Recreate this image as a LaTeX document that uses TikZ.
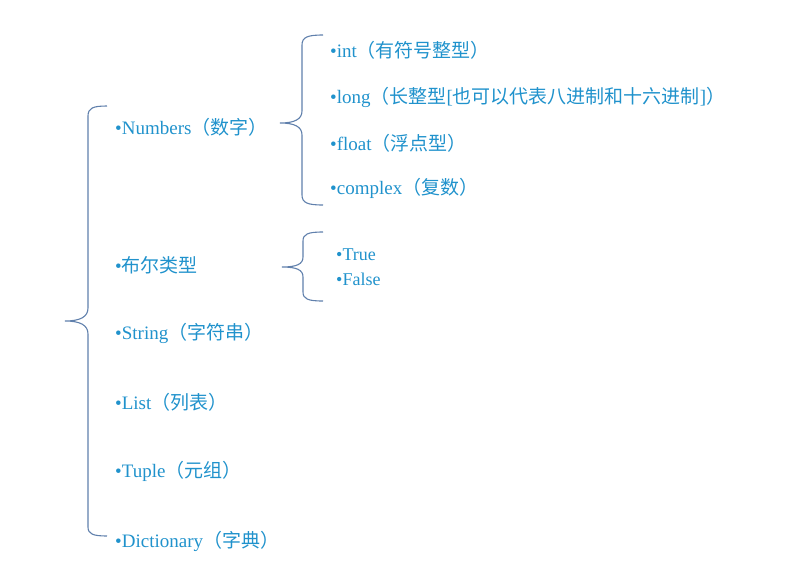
\documentclass[tikz,border=0pt]{standalone}
\usepackage{fontspec}
\setmainfont{Liberation Serif}
\newfontfamily\cjk{Noto Sans CJK SC}
\definecolor{itemblue}{RGB}{32,146,204}
\definecolor{braceblue}{RGB}{96,128,172}
\begin{document}
\begin{tikzpicture}
  [x=1pt,y=-1pt,
   item/.style={anchor=west,inner sep=0,text=itemblue,
                font=\fontsize{19}{21}\selectfont},
   small/.style={item,font=\fontsize{18}{20}\selectfont},
   brace/.style={draw=braceblue,line width=1.1pt}]
  \useasboundingbox (0,0) rectangle (795,571);
  % main list
  \node[item] (numbers) at (115,127) {•Numbers{\cjk （数字）}};
  \node[item] (bool) at (115,265) {•{\cjk 布尔类型}};
  \node[item] (string) at (115,333) {•String{\cjk （字符串）}};
  \node[item] (list) at (115,402) {•List{\cjk （列表）}};
  \node[item] (tuple) at (115,471) {•Tuple{\cjk （元组）}};
  \node[item] (dict) at (115,541) {•Dictionary{\cjk （字典）}};
  % numbers
  \node[item] (int) at (330,50) {•int{\cjk （有符号整型）}};
  \node[item] (long) at (330,97) {•long{\cjk （长整型}[{\cjk 也可以代表八进制和十六进制}]{\cjk ）}};
  \node[item] (float) at (330,143) {•float{\cjk （浮点型）}};
  \node[item] (complex) at (330,188) {•complex{\cjk （复数）}};
  % bool
  \node[small] (true) at (336,255) {•True};
  \node[small] (false) at (336,279) {•False};
  % braces
  \draw[brace] (107,106) .. controls (93,106) and (88,108) .. (88,116)
    -- (88,308) .. controls (88,317) and (80,321) .. (65,321)
    .. controls (80,321) and (88,325) .. (88,334)
    -- (88,527) .. controls (88,534) and (93,536) .. (107,536);
  \draw[brace] (323,35) .. controls (308,35) and (302,37) .. (302,45)
    -- (302,111) .. controls (302,119) and (295,123) .. (280,123)
    .. controls (295,123) and (302,127) .. (302,135)
    -- (302,195) .. controls (302,203) and (308,205) .. (323,205);
  \draw[brace] (323,232) .. controls (308,232) and (303,234) .. (303,241)
    -- (303,257) .. controls (303,264) and (297,267) .. (282,267)
    .. controls (297,267) and (303,270) .. (303,277)
    -- (303,292) .. controls (303,299) and (308,301) .. (323,301);
\end{tikzpicture}
\end{document}
